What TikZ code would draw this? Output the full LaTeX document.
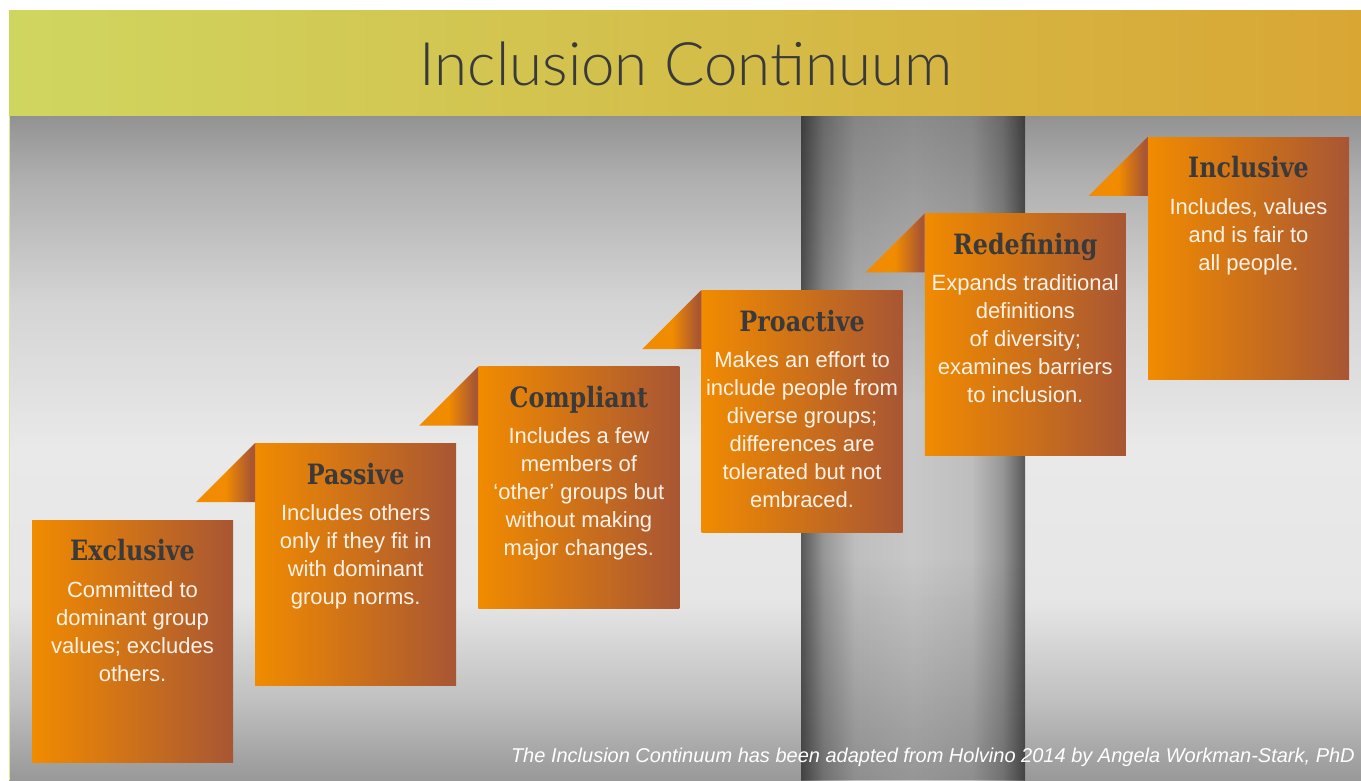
\documentclass[tikz,border=0pt]{standalone}
\usepackage{fontspec}
\usetikzlibrary{positioning,fadings}

\newfontfamily\bodyfont{Liberation Sans}
\newfontfamily\headfont[FakeStretch=0.85]{DejaVu Serif}
\IfFontExistsTF{Lato Light}{\newfontfamily\titlefont{Lato Light}}{\newfontfamily\titlefont{Lato}}

\definecolor{boxorange}{RGB}{241,139,0}
\definecolor{boxbrown}{RGB}{168,86,52}
\definecolor{headleft}{RGB}{207,214,96}
\definecolor{headmid}{RGB}{214,200,80}
\definecolor{headright}{RGB}{217,166,52}
\definecolor{darktext}{RGB}{58,58,58}
\definecolor{bodytext}{RGB}{253,242,232}
\definecolor{bgA}{RGB}{152,152,152}
\definecolor{bgB}{RGB}{192,192,192}
\definecolor{bgC}{RGB}{230,230,230}
\definecolor{bgD}{RGB}{233,233,233}
\definecolor{bgE}{RGB}{212,212,212}
\definecolor{bgF}{RGB}{176,176,176}
\definecolor{bgG}{RGB}{146,146,146}
\definecolor{bandA}{RGB}{200,200,200}
\definecolor{bandB}{RGB}{190,190,190}
\definecolor{bandC}{RGB}{150,150,150}
\definecolor{bandD}{RGB}{88,88,88}

% shadings (the path box covers 25bp..75bp)
\pgfdeclareverticalshading{bgshade}{100bp}{color(0bp)=(bgA); color(25bp)=(bgA); color(31bp)=(bgB); color(38.5bp)=(bgC); color(50bp)=(bgD); color(61bp)=(bgE); color(70bp)=(bgF); color(75bp)=(bgG); color(100bp)=(bgG)}
\pgfdeclarehorizontalshading{flagshade}{100bp}{color(0bp)=(boxorange); color(50bp)=(boxorange); color(72bp)=(boxbrown); color(100bp)=(boxbrown)}
\pgfdeclarehorizontalshading{bandshade}{100bp}{color(0bp)=(bandD); color(25bp)=(bandD); color(30bp)=(bandC); color(37bp)=(bandB); color(50bp)=(bandA); color(63bp)=(bandB); color(70bp)=(bandC); color(75bp)=(bandD); color(100bp)=(bandD)}
\tikzfading[name=bandtop, top color=transparent!0, bottom color=transparent!100]
\tikzfading[name=bandbottom, top color=transparent!100, bottom color=transparent!0]

\newcommand{\firstline}{\rule{0pt}{20pt}}

\begin{document}
\begin{tikzpicture}[
    x=1pt, y=-1pt,
    stepbox/.style={
		rectangle,
		inner sep=0pt,
		minimum width=201pt,
		minimum height=242pt,
		left color=boxorange,
		right color=boxbrown
	},
	steptitle/.style={
		font=\headfont\bfseries\fontsize{28}{30}\selectfont,
		text=darktext,
		anchor=base,
		inner sep=0pt
	},
	stepbody/.style={
		font=\bodyfont\fontsize{22}{28}\selectfont,
		text=bodytext,
		align=center,
		anchor=north,
		inner sep=0pt
	}
  ]
  \fill [white] (0,0) rectangle (1361,780);
  \useasboundingbox (0,0) rectangle (1361,780);

  % background and the dark band
  \shade [shading=bgshade] (9,115) rectangle (1361,780);
  \shade [shading=bandshade] (801,115) rectangle (1025,780);
  \fill [black, fill opacity=0.3, path fading=bandtop] (801,115) rectangle (1025,400);
  \fill [black, fill opacity=0.25, path fading=bandbottom] (801,560) rectangle (1025,780);
  \draw [headleft!60!white, line width=1pt] (9.5,115) -- (9.5,780);

  % header
  \shade [left color=headleft, middle color=headmid, right color=headright] (9,10) rectangle (1361,115);
  \node [font=\titlefont\fontsize{60}{62}\selectfont, text=darktext, anchor=base, inner sep=0pt] (title) at (686,85) {Inclusion Continuum};

  % the steps
  \node [stepbox] (exclusive) at (132.5,641) {};
  \node [stepbox, right=21.8pt of exclusive, yshift=76.6pt] (passive) {};
  \node [stepbox, right=21.8pt of passive, yshift=76.6pt] (compliant) {};
  \node [stepbox, right=21.8pt of compliant, yshift=76.6pt] (proactive) {};
  \node [stepbox, right=21.8pt of proactive, yshift=76.6pt] (redefining) {};
  \node [stepbox, right=21.8pt of redefining, yshift=76.6pt] (inclusive) {};

  \foreach \s in {passive,compliant,proactive,redefining,inclusive}
    \shade [shading=flagshade] (\s.north west) -- ++(0,59) -- ++(-59,0) -- cycle;

  \node [steptitle] (exclusive-title) at ([yshift=-41pt]exclusive.north) {Exclusive};
  \node [stepbody] (exclusive-text) at ([yshift=-57pt]exclusive.north)
    {\firstline Committed to\\dominant group\\values; excludes\\others.};

  \node [steptitle] (passive-title) at ([yshift=-41pt]passive.north) {Passive};
  \node [stepbody] (passive-text) at ([yshift=-57pt]passive.north)
    {\firstline Includes others\\only if they fit in\\with dominant\\group norms.};

  \node [steptitle] (compliant-title) at ([yshift=-41pt]compliant.north) {Compliant};
  \node [stepbody] (compliant-text) at ([yshift=-57pt]compliant.north)
    {\firstline Includes a few\\members of\\‘other’ groups but\\without making\\major changes.};

  \node [steptitle] (proactive-title) at ([yshift=-41pt]proactive.north) {Proactive};
  \node [stepbody] (proactive-text) at ([yshift=-57pt]proactive.north)
    {\firstline Makes an effort to\\include people from\\diverse groups;\\differences are\\tolerated but not\\embraced.};

  \node [steptitle] (redefining-title) at ([yshift=-41pt]redefining.north) {Redefining};
  \node [stepbody] (redefining-text) at ([yshift=-57pt]redefining.north)
    {\firstline Expands traditional\\definitions\\of diversity;\\examines barriers\\to inclusion.};

  \node [steptitle] (inclusive-title) at ([yshift=-41pt]inclusive.north) {Inclusive};
  \node [stepbody] (inclusive-text) at ([yshift=-57pt]inclusive.north)
    {\firstline Includes, values\\and is fair to\\all people.};

  % credit line
  \node [font=\bodyfont\itshape\fontsize{20}{24}\selectfont, text=white, anchor=base east, inner sep=0pt] (credit) at (1355,762)
    {The Inclusion Continuum has been adapted from Holvino 2014 by Angela Workman-Stark, PhD};
\end{tikzpicture}
\end{document}
